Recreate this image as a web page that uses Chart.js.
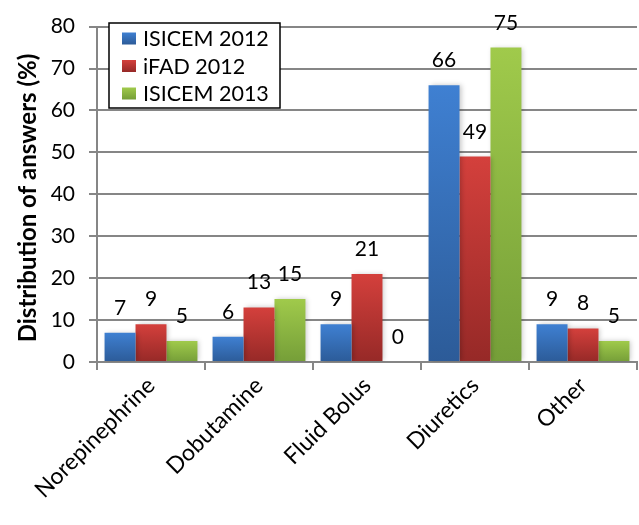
<!DOCTYPE html>
<html>
<head>
<meta charset="utf-8">
<script src="https://cdn.jsdelivr.net/npm/chart.js@4/dist/chart.umd.min.js"></script>
<style>
html,body{margin:0;padding:0;background:#fff;}
canvas{display:block;}
</style>
</head>
<body>
<canvas id="c" width="639" height="525"></canvas>
<script>
const categories = ["Norepinephrine", "Dobutamine", "Fluid Bolus", "Diuretics", "Other"];
const isicem2012 = [7, 6, 9, 66, 9];
const ifad2012 = [9, 13, 21, 49, 8];
const isicem2013 = [5, 15, 0, 75, 5];
const seriesNames = ["ISICEM 2012", "iFAD 2012", "ISICEM 2013"];
const yTicks = [0, 10, 20, 30, 40, 50, 60, 70, 80];
const yTitle = "Distribution of answers (%)";

const FONT = "Lato, 'Open Sans', sans-serif";
const colors = [
  ["#3f80d2", "#2c5b98"],
  ["#d4403c", "#962927"],
  ["#a0ca4b", "#759e38"]
];

function grad(top, bottom) {
  return (c) => {
    const chart = c.chart;
    const { ctx, chartArea, scales } = chart;
    if (!chartArea || c.type !== 'data' || !scales.y) return bottom;
    const y0 = scales.y.getPixelForValue(c.parsed.y);
    const y1 = scales.y.getPixelForValue(0);
    if (y1 - y0 < 1) return top;
    const g = ctx.createLinearGradient(0, y0, 0, y1);
    g.addColorStop(0, top);
    g.addColorStop(1, bottom);
    return g;
  };
}

const shadowPlugin = {
  id: 'shadow',
  beforeDatasetDraw(chart) {
    const ctx = chart.ctx;
    ctx.save();
    ctx.shadowColor = 'rgba(0,0,0,0.22)';
    ctx.shadowBlur = 5;
    ctx.shadowOffsetX = 2;
    ctx.shadowOffsetY = 0;
  },
  afterDatasetDraw(chart) {
    chart.ctx.restore();
  }
};

const labelPlugin = {
  id: 'valueLabels',
  afterDatasetsDraw(chart) {
    const ctx = chart.ctx;
    ctx.save();
    ctx.font = "21px " + FONT;
    ctx.fillStyle = "#000";
    ctx.textAlign = "center";
    ctx.textBaseline = "alphabetic";
    chart.data.datasets.forEach((ds, i) => {
      const meta = chart.getDatasetMeta(i);
      meta.data.forEach((bar, j) => {
        const y = Math.max(bar.y - 18, 28);
        ctx.fillText(String(ds.data[j]), bar.x, y);
      });
    });
    ctx.restore();
  }
};

const yTitlePlugin = {
  id: 'yTitle',
  afterDraw(chart) {
    const ctx = chart.ctx;
    ctx.save();
    ctx.translate(28, 198);
    ctx.rotate(-Math.PI / 2);
    ctx.font = "bold 24px " + FONT;
    ctx.fillStyle = "#000";
    ctx.textAlign = "center";
    ctx.textBaseline = "middle";
    ctx.fillText(yTitle, 0, 0);
    ctx.restore();
  }
};

const legendPlugin = {
  id: 'boxLegend',
  afterDraw(chart) {
    const ctx = chart.ctx;
    ctx.save();
    const x = 109, y = 23, w = 171, h = 85;
    ctx.fillStyle = "#fff";
    ctx.fillRect(x, y, w, h);
    ctx.strokeStyle = "#000";
    ctx.lineWidth = 1.5;
    ctx.strokeRect(x, y, w, h);
    ctx.font = "21.5px " + FONT;
    ctx.textBaseline = "middle";
    ctx.textAlign = "left";
    seriesNames.forEach((name, i) => {
      const cy = 38.5 + i * 27.5;
      const g = ctx.createLinearGradient(0, cy - 6, 0, cy + 6);
      g.addColorStop(0, colors[i][0]);
      g.addColorStop(1, colors[i][1]);
      ctx.fillStyle = g;
      ctx.fillRect(122, cy - 6, 14, 12);
      ctx.fillStyle = "#000";
      ctx.fillText(name, 143, cy + 1);
    });
    ctx.restore();
  }
};

const ds = [isicem2012, ifad2012, isicem2013].map((d, i) => ({
  label: seriesNames[i],
  data: d,
  backgroundColor: grad(colors[i][0], colors[i][1]),
  borderWidth: 0,
  categoryPercentage: 0.86,
  barPercentage: 1.0
}));

new Chart(document.getElementById('c'), {
  type: 'bar',
  data: { labels: categories, datasets: ds },
  options: {
    responsive: false,
    animation: false,
    devicePixelRatio: 1,
    layout: { padding: { top: 18, right: 2, left: 0, bottom: 0 } },
    plugins: {
      legend: { display: false },
      tooltip: { enabled: false }
    },
    scales: {
      x: {
        grid: {
          display: true,
          offset: true,
          drawOnChartArea: false,
          drawTicks: true,
          tickLength: 8,
          color: "#868686",
          lineWidth: 2
        },
        border: { display: true, color: "#868686", width: 2 },
        ticks: {
          color: "#000",
          font: { family: FONT, size: 23 },
          minRotation: 45,
          maxRotation: 45,
          autoSkip: false,
          padding: 2
        },
        afterFit(scale) { scale.height = 163; }
      },
      y: {
        min: 0,
        max: 80,
        afterBuildTicks(scale) { scale.ticks = yTicks.map(v => ({ value: v })); },
        grid: {
          color: "#868686",
          lineWidth: 2,
          borderDash: [6, 3],
          tickBorderDash: [],
          tickLength: 8,
          drawTicks: true
        },
        border: { display: true, color: "#868686", width: 2 },
        ticks: {
          color: "#000",
          font: { family: FONT, size: 21 },
          padding: 14
        },
        title: { display: false },
        afterFit(scale) { scale.width = 97; }
      }
    }
  },
  plugins: [shadowPlugin, labelPlugin, yTitlePlugin, legendPlugin]
});
</script>
</body>
</html>
